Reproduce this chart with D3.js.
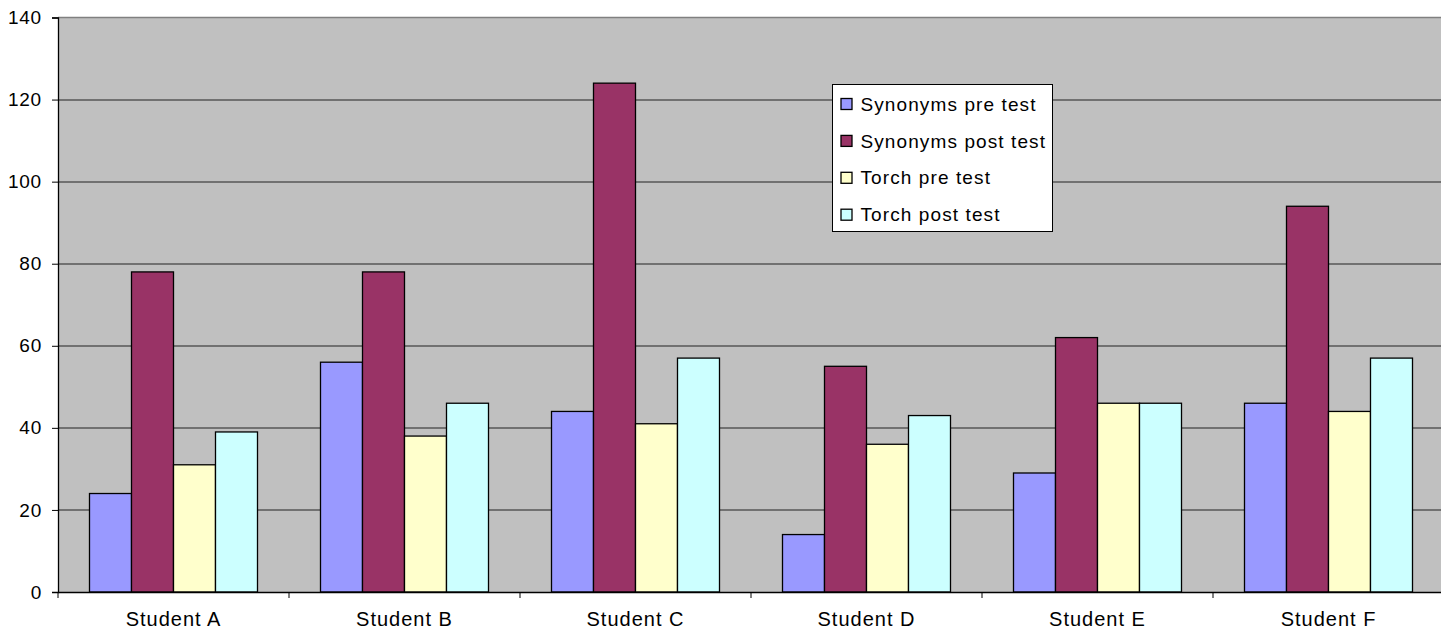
<!DOCTYPE html>
<html>
<head>
<meta charset="utf-8">
<script src="https://cdn.jsdelivr.net/npm/d3@7"></script>
<style>
  body { margin: 0; background: #fff; }
  svg { display: block; font-family: "Liberation Sans", Arial, sans-serif; }
</style>
</head>
<body>
<svg class="chart" width="1441" height="635"></svg>
<script>
var students = ["Student A", "Student B", "Student C", "Student D", "Student E", "Student F"];
var seriesNames = ["Synonyms pre test", "Synonyms post test", "Torch pre test", "Torch post test"];
var synPre  = [24, 56, 44, 14, 29, 46];
var synPost = [78, 78, 124, 55, 62, 94];
var torchPre  = [31, 38, 41, 36, 46, 44];
var torchPost = [39, 46, 57, 43, 46, 57];
var yTicks = [0, 20, 40, 60, 80, 100, 120, 140];
var colors = ["#9999ff", "#993366", "#ffffcc", "#ccffff"];

var allSeries = [synPre, synPost, torchPre, torchPost];

var margin = {top: 17.5, right: -3, bottom: 43, left: 58},
    width = 1441 - margin.left - margin.right,
    height = 635 - margin.top - margin.bottom;

var svg = d3.select(".chart")
  .append("g")
    .attr("transform", "translate(" + margin.left + "," + margin.top + ")");

var x0 = d3.scaleBand()
    .domain(students)
    .range([0, width])
    .paddingInner(0)
    .paddingOuter(0);

// excel gap width 150%: band = 4 bars + 1.5 bar
var barW = x0.bandwidth() / 5.5;
var x1 = d3.scaleBand()
    .domain(d3.range(seriesNames.length))
    .range([barW * 0.75, barW * 4.75]);

var y = d3.scaleLinear()
    .domain([0, 140])
    .range([height, 0]);

// plot background
svg.append("rect")
    .attr("width", width)
    .attr("height", height)
    .attr("fill", "#c0c0c0");

// gridlines
svg.append("g")
    .attr("class", "grid")
  .selectAll("line")
  .data(yTicks.filter(function(d) { return d > 0 && d < 140; }))
  .enter().append("line")
    .attr("x1", 0)
    .attr("x2", width)
    .attr("y1", function(d) { return Math.round(y(d)) + 0.5; })
    .attr("y2", function(d) { return Math.round(y(d)) + 0.5; })
    .attr("stroke", "#222")
    .attr("stroke-width", 1);

svg.append("line")
    .attr("x1", 0).attr("x2", width)
    .attr("y1", y(140)).attr("y2", y(140))
    .attr("stroke", "#808080")
    .attr("stroke-width", 1.5);

// bars
var groups = svg.append("g")
    .attr("class", "bars")
  .selectAll("g")
  .data(students)
  .enter().append("g")
    .attr("transform", function(d) { return "translate(" + x0(d) + ",0)"; });

groups.selectAll("rect")
  .data(function(d, i) { return allSeries.map(function(s, k) { return {k: k, v: s[i]}; }); })
  .enter().append("rect")
    .attr("x", function(d) { return x1(d.k); })
    .attr("width", x1.bandwidth())
    .attr("y", function(d) { return y(d.v); })
    .attr("height", function(d) { return height - y(d.v); })
    .attr("fill", function(d) { return colors[d.k]; })
    .attr("stroke", "#000")
    .attr("stroke-width", 1.3);

// axes
var yAxis = d3.axisLeft(y)
    .tickValues(yTicks)
    .tickSize(6)
    .tickPadding(10);

svg.append("g")
    .attr("class", "y axis")
    .call(yAxis)
    .call(function(g) {
      g.select(".domain").attr("stroke", "#000").attr("stroke-width", 1.3);
      g.selectAll(".tick line").attr("stroke", "#000");
      g.selectAll("text").attr("font-size", 19).attr("fill", "#000")
        .attr("letter-spacing", "0.8px")
        .attr("font-family", "Liberation Sans, Arial, sans-serif");
    });

var xAxis = d3.axisBottom(x0)
    .tickSize(0)
    .tickPadding(20);

svg.append("g")
    .attr("class", "x axis")
    .attr("transform", "translate(0," + height + ")")
    .call(xAxis)
    .call(function(g) {
      g.select(".domain").attr("stroke", "#000").attr("stroke-width", 1.3);
      g.selectAll("text").attr("font-size", 20).attr("fill", "#000")
        .attr("letter-spacing", "1px")
        .attr("font-family", "Liberation Sans, Arial, sans-serif");
    });

// category boundary ticks
svg.append("g")
    .attr("transform", "translate(0," + height + ")")
  .selectAll("line")
  .data(students)
  .enter().append("line")
    .attr("x1", function(d) { return x0(d); })
    .attr("x2", function(d) { return x0(d); })
    .attr("y1", 0)
    .attr("y2", 6)
    .attr("stroke", "#000");

// legend
var legend = svg.append("g")
    .attr("class", "legend")
    .attr("transform", "translate(" + (832.5 - margin.left) + "," + (84.5 - margin.top) + ")");

legend.append("rect")
    .attr("width", 220)
    .attr("height", 147)
    .attr("fill", "#fff")
    .attr("stroke", "#000")
    .attr("stroke-width", 1);

var item = legend.selectAll(".item")
  .data(seriesNames)
  .enter().append("g")
    .attr("class", "item")
    .attr("transform", function(d, i) { return "translate(0," + (19.5 + i * 36.9) + ")"; });

item.append("rect")
    .attr("x", 8.5)
    .attr("y", -5.5)
    .attr("width", 11)
    .attr("height", 11)
    .attr("fill", function(d, i) { return colors[i]; })
    .attr("stroke", "#000")
    .attr("stroke-width", 1.3);

item.append("text")
    .attr("x", 28)
    .attr("dy", "0.35em")
    .attr("font-size", 19)
    .attr("letter-spacing", "1.1px")
    .text(function(d) { return d; });
</script>
</body>
</html>
